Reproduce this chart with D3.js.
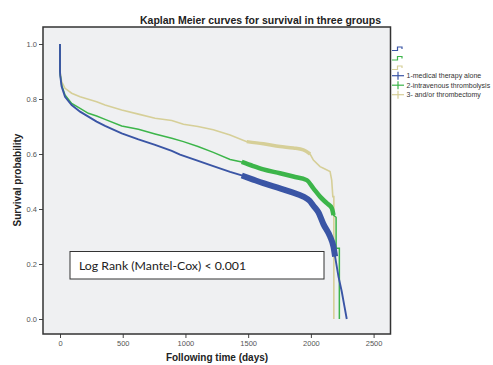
<!DOCTYPE html>
<html>
<head>
<meta charset="utf-8">
<script src="https://cdn.jsdelivr.net/npm/d3@7"></script>
<style>
  body { margin: 0; background: #fff; }
  svg { display: block; }
  .axis text { font-family: "Liberation Sans", Arial, sans-serif; font-size: 7.5px; fill: #555; }
  .axis line { stroke: #444; }
  .axis path { display: none; }
</style>
</head>
<body>
<div id="chart"></div>
<script>
// survival curves: [day, survival]
const medical = [
    [0, 1.0], [0, 0.9], [2, 0.885], [13, 0.845], [40, 0.808], [93, 0.778], [160, 0.754], [226, 0.736],
    [292, 0.718], [359, 0.702], [492, 0.675], [625, 0.653], [758, 0.633], [891, 0.611],
    [957, 0.598], [1090, 0.577], [1222, 0.556], [1356, 0.535], [1449, 0.522], [1540, 0.507],
    [1621, 0.494], [1754, 0.475], [1840, 0.462], [1940, 0.445], [1990, 0.43], [2020, 0.412],
    [2060, 0.388], [2100, 0.345], [2153, 0.3], [2180, 0.263], [2193, 0.227],
    [2220, 0.154], [2246, 0.1], [2268, 0.045], [2286, 0.0]
];
const intravenous = [
    [0, 1.0], [0, 0.9], [2, 0.888], [13, 0.85], [40, 0.815], [93, 0.784], [160, 0.766], [226, 0.748],
    [292, 0.738], [359, 0.726], [492, 0.702], [625, 0.69], [758, 0.673], [891, 0.657],
    [984, 0.645], [1100, 0.627], [1222, 0.606], [1356, 0.58], [1449, 0.571], [1540, 0.556],
    [1621, 0.544], [1754, 0.53], [1860, 0.518], [1967, 0.505], [2020, 0.475], [2073, 0.445],
    [2127, 0.421], [2167, 0.403], [2180, 0.378], [2201, 0.37], [2201, 0.257], [2227, 0.257], [2227, 0.0]
];
const thrombectomy = [
    [0, 1.0], [0, 0.9], [2, 0.893], [13, 0.863], [40, 0.839], [93, 0.821], [160, 0.808], [226, 0.799],
    [292, 0.79], [359, 0.778], [492, 0.76], [625, 0.745], [758, 0.73], [891, 0.722],
    [984, 0.708], [1100, 0.7], [1222, 0.688], [1356, 0.669], [1489, 0.645], [1621, 0.637],
    [1754, 0.627], [1860, 0.622], [1940, 0.615], [1994, 0.6], [2020, 0.578], [2073, 0.554],
    [2100, 0.548], [2153, 0.536], [2166, 0.505], [2175, 0.445], [2183, 0.445], [2183, 0.0]
];

const groupNames = ["1-medical therapy alone", "2-intravenous thrombolysis", "3- and/or thrombectomy"];
const groupColors = ["#3a55a5", "#3cb54a", "#d6cf98"];
// range of days where censored marks pile up into a thick band
const censorRanges = [[1449, 2193], [1449, 2180], [1489, 2000]];

const xTicks = [0, 500, 1000, 1500, 2000, 2500];
const yTicks = [0, 0.2, 0.4, 0.6, 0.8, 1.0];

const width = 493, height = 365;
const svg = d3.select("#chart").append("svg")
    .attr("width", width)
    .attr("height", height);

const x = d3.scaleLinear().domain([0, 2500]).range([60, 373.6]);
const y = d3.scaleLinear().domain([0, 1]).range([319, 44]);

// plot frame
const frame = { x0: 43, x1: 390.5, y0: 27, y1: 334 };
svg.append("rect")
    .attr("x", frame.x0).attr("y", frame.y0)
    .attr("width", frame.x1 - frame.x0).attr("height", frame.y1 - frame.y0)
    .attr("fill", "#eff0f2");

// axes
svg.append("g")
    .attr("class", "axis")
    .attr("transform", `translate(0,${frame.y1})`)
    .call(d3.axisBottom(x).tickValues(xTicks).tickSize(4).tickPadding(3).tickFormat(d3.format("d")));

svg.append("g")
    .attr("class", "axis")
    .attr("transform", `translate(${frame.x0},0)`)
    .call(d3.axisLeft(y).tickValues(yTicks).tickSize(4).tickPadding(2).tickFormat(d3.format(".1f")));

// log rank box
svg.append("rect")
    .attr("x", 70).attr("y", 251.5)
    .attr("width", 254).attr("height", 27.5)
    .attr("fill", "#fff")
    .attr("stroke", "#333")
    .attr("stroke-width", 1);
svg.append("text")
    .attr("x", 79).attr("y", 269.5)
    .style("font-family", "Lato, 'Open Sans', sans-serif")
    .style("font-size", "12.3px")
    .style("fill", "#222")
    .text("Log Rank (Mantel-Cox) < 0.001");

// curves
const line = d3.line()
    .x(d => x(d[0]))
    .y(d => y(d[1]));

const series = [medical, intravenous, thrombectomy];
const drawOrder = [2, 1, 0];
const thin = [1.9, 1.5, 1.6];
const thick = [6, 4.5, 3.5];

drawOrder.forEach(i => {
    svg.append("path")
        .datum(series[i])
        .attr("fill", "none")
        .attr("stroke", groupColors[i])
        .attr("stroke-width", thin[i])
        .attr("d", line);

    let [c0, c1] = censorRanges[i];
    let pts = series[i].filter(d => d[0] >= c0 && d[0] <= c1);
    svg.append("path")
        .datum(pts)
        .attr("fill", "none")
        .attr("stroke", groupColors[i])
        .attr("stroke-width", thick[i])
        .attr("stroke-linejoin", "round")
        .attr("d", line.curve(d3.curveMonotoneX));
    line.curve(d3.curveLinear);
});

// frame border on top
svg.append("rect")
    .attr("x", frame.x0).attr("y", frame.y0)
    .attr("width", frame.x1 - frame.x0).attr("height", frame.y1 - frame.y0)
    .attr("fill", "none")
    .attr("stroke", "#333")
    .attr("stroke-width", 1.5);

// legend
const lg = svg.append("g").attr("transform", "translate(392,0)");
groupColors.forEach((c, i) => {
    let yy = 50.5 + i * 9.5;
    lg.append("path")
        .attr("d", `M0,${yy} H5.5 V${yy - 3.5} H10 V${yy - 1.5}`)
        .attr("fill", "none")
        .attr("stroke", c)
        .attr("stroke-width", 1.2);
});
groupNames.forEach((name, i) => {
    let yy = 75.7 + i * 9.5;
    lg.append("line")
        .attr("x1", 0).attr("x2", 12).attr("y1", yy).attr("y2", yy)
        .attr("stroke", groupColors[i]).attr("stroke-width", 1.2);
    lg.append("line")
        .attr("x1", 6).attr("x2", 6).attr("y1", yy - 4).attr("y2", yy + 4)
        .attr("stroke", groupColors[i]).attr("stroke-width", 1.2);
    lg.append("text")
        .attr("x", 14.5).attr("y", yy + 2.5)
        .style("font-family", "'Liberation Sans', Arial, sans-serif")
        .style("font-size", "7px")
        .style("fill", "#333")
        .text(name);
});

// titles
svg.append("text")
    .attr("x", 260.5).attr("y", 23.5)
    .attr("text-anchor", "middle")
    .style("font-family", "'Liberation Sans', Arial, sans-serif")
    .style("font-weight", "bold")
    .style("font-size", "10.5px")
    .style("fill", "#222")
    .text("Kaplan Meier curves for survival in three groups");

svg.append("text")
    .attr("x", 217).attr("y", 361)
    .attr("text-anchor", "middle")
    .style("font-family", "'Liberation Sans', Arial, sans-serif")
    .style("font-weight", "bold")
    .style("font-size", "10px")
    .style("fill", "#222")
    .text("Following time (days)");

svg.append("text")
    .attr("transform", "translate(21,180) rotate(-90)")
    .attr("text-anchor", "middle")
    .style("font-family", "'Liberation Sans', Arial, sans-serif")
    .style("font-weight", "bold")
    .style("font-size", "10px")
    .style("fill", "#222")
    .text("Survival probability");
</script>
</body>
</html>
